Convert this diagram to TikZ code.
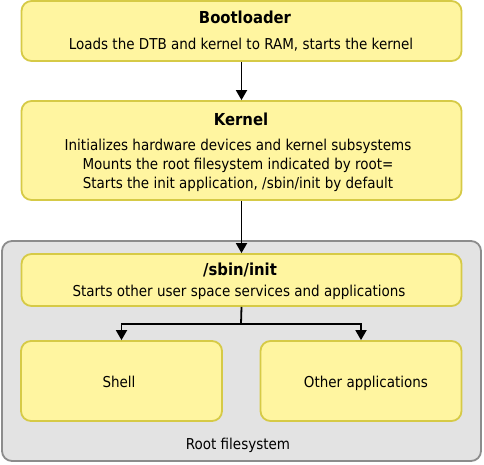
\documentclass[tikz,border=0pt]{standalone}
\usepackage{fontspec}
\setmainfont{DejaVu Sans Condensed}
\usetikzlibrary{arrows.meta}
\definecolor{boxfill}{RGB}{255,245,160}
\definecolor{boxline}{RGB}{214,202,70}
\definecolor{rootfill}{RGB}{227,227,227}
\definecolor{rootline}{RGB}{140,140,140}
\tikzset{
  stage/.style={draw=boxline, fill=boxfill, line width=1.8pt, rounded corners=10pt, inner sep=0pt},
  rootbox/.style={draw=rootline, fill=rootfill, line width=1.8pt, rounded corners=10pt, inner sep=0pt},
  txt/.style={anchor=base, inner sep=0pt, font=\fontsize{15}{18}\selectfont},
  ttl/.style={anchor=base, inner sep=0pt, font=\fontsize{16.5}{19}\selectfont\bfseries},
  flow/.style={draw=black, line width=1.8pt, -{Triangle[length=10pt,width=11pt]}},
}
\begin{document}
\begin{tikzpicture}[x=1pt,y=-1pt]
\useasboundingbox (0,0) rectangle (484,464);
% boxes
\node[rootbox, minimum width=479pt, minimum height=220pt] (root) at (241.5,351) {};
\node[stage, minimum width=440pt, minimum height=60pt] (boot) at (241.5,31) {};
\node[stage, minimum width=440pt, minimum height=99pt] (kern) at (241.5,150.5) {};
\node[stage, minimum width=440pt, minimum height=52pt] (init) at (241.5,280) {};
\node[stage, minimum width=201pt, minimum height=80pt] (shell) at (121.5,381) {};
\node[stage, minimum width=201pt, minimum height=80pt] (other) at (361,381) {};
% texts
\node[ttl] (bootT) at (245,23) {Bootloader};
\node[txt] (bootB) at (241,49) {Loads the DTB and kernel to RAM, starts the kernel};
\node[ttl] (kernT) at (241,125) {Kernel};
\node[txt] (kernB1) at (238,150) {Initializes hardware devices and kernel subsystems};
\node[txt] (kernB2) at (238,169) {Mounts the root filesystem indicated by root=};
\node[txt] (kernB3) at (238,188) {Starts the init application, /sbin/init by default};
\node[ttl] (initT) at (240,275) {/sbin/init};
\node[txt] (initB) at (239,296) {Starts other user space services and applications};
\node[txt] (shellT) at (119,387) {Shell};
\node[txt] (otherT) at (366,387) {Other applications};
\node[txt] (rootT) at (238,449) {Root filesystem};
% connectors
\coordinate (split) at (241,324);
\draw[flow] (boot.south) -- (kern.north);
\draw[flow] (kern.south) -- (init.north);
\draw[line width=1.8pt] (init.south) -- (split);
\draw[flow] (split) -| (shell.north);
\draw[flow] (split) -| (other.north);
\end{tikzpicture}
\end{document}
